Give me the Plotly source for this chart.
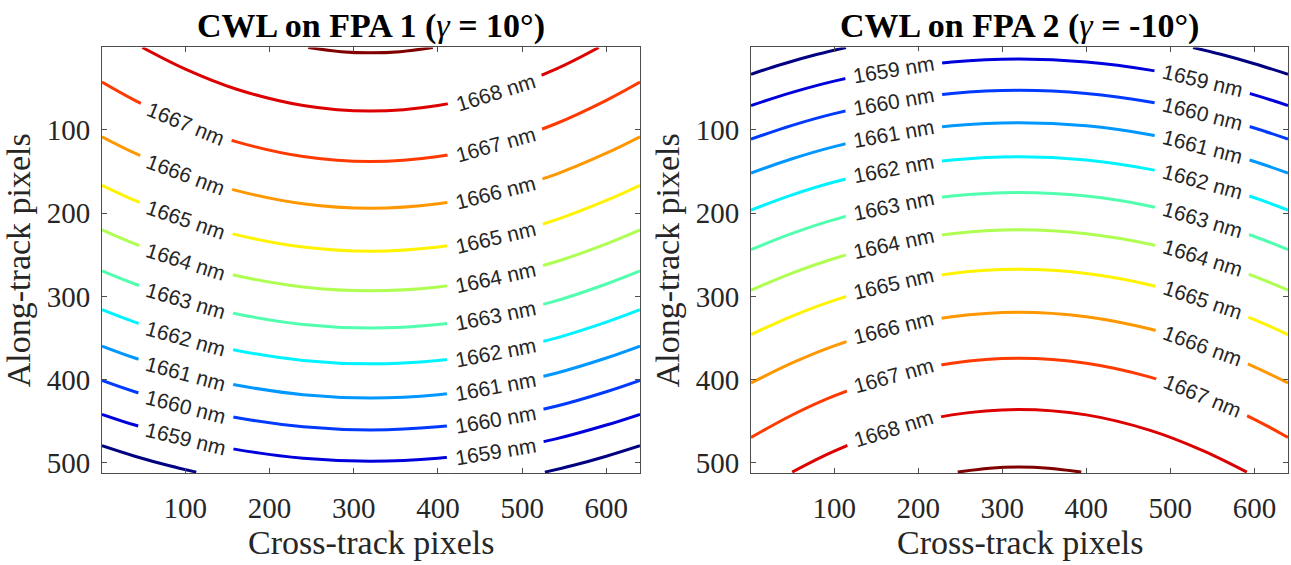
import math
import plotly.graph_objects as go

# ---------------- data ----------------
LEVELS = [1658, 1659, 1660, 1661, 1662, 1663, 1664, 1665, 1666, 1667, 1668, 1669]
X_TICKS = [100, 200, 300, 400, 500, 600]
Y_TICKS = [100, 200, 300, 400, 500]
TITLES = ["<b>CWL on FPA 1 (</b><i>γ</i><b> = 10°)</b>", "<b>CWL on FPA 2 (</b><i>γ</i><b> = -10°)</b>"]
X_TITLE = "Cross-track pixels"
Y_TITLE = "Along-track pixels"

# FPA 1 : along-track row of each contour at these cross-track columns
FPA1_X = [1, 40, 100, 160, 240, 320, 400, 468, 540, 600, 640]
FPA1_1659 = [441.6, 454.5, 471.1, 483.7, 494.4, 497.9, 494.4, 485.8, 471.1, 454.5, 441.6]
FPA1_1660 = [400.9, 414.5, 432.0, 445.4, 456.6, 460.3, 456.6, 447.5, 432.0, 414.5, 400.9]
FPA1_1661 = [359.7, 374.0, 392.3, 406.3, 418.0, 421.9, 418.0, 408.5, 392.3, 374.0, 359.7]
FPA1_1662 = [316.0, 330.9, 350.1, 364.6, 376.9, 381.0, 376.9, 367.0, 350.1, 330.9, 316.0]
FPA1_1663 = [269.4, 285.1, 305.4, 320.7, 333.7, 338.0, 333.7, 323.2, 305.4, 285.1, 269.4]
FPA1_1664 = [220.0, 236.8, 258.4, 274.8, 288.6, 293.2, 288.6, 277.4, 258.4, 236.8, 220.0]
FPA1_1665 = [166.5, 184.7, 208.0, 225.8, 240.7, 245.7, 240.7, 228.7, 208.0, 184.7, 166.5]
FPA1_1666 = [108.3, 128.0, 153.3, 172.6, 188.8, 194.2, 188.8, 175.7, 153.3, 128.0, 108.3]
FPA1_1667 = [42.6, 64.5, 92.6, 114.0, 132.0, 138.0, 132.0, 117.5, 92.6, 64.5, 42.6]
FPA1_1668_X = [49, 100, 160, 240, 320, 400, 468, 540, 591]
FPA1_1668_Y = [1, 27.0, 50.8, 70.7, 77.4, 70.7, 54.6, 27.0, 1]
FPA1_1669_X = [246, 285, 320, 355, 394]
FPA1_1669_Y = [1, 6.0, 7.4, 6.0, 1]
FPA1_1658_X = [1, 40, 80, 113, None, 527, 560, 600, 640]
FPA1_1658_Y = [479.3, 491.9, 503.1, 511, None, 511, 503.1, 491.9, 479.3]
FPA1_LABELS_LEFT = ([1659, 1660, 1661, 1662, 1663, 1664, 1665, 1666, 1667], 100)
FPA1_LABELS_RIGHT = ([1659, 1660, 1661, 1662, 1663, 1664, 1665, 1666, 1667, 1668], 468)

# FPA 2
FPA2_X = [1, 50, 100, 170, 240, 320, 400, 476, 538, 600, 640]
FPA2_1659 = [70.7, 54.9, 41.4, 27.2, 18.4, 14.9, 18.4, 28.2, 41.0, 57.9, 70.7]
FPA2_1660 = [111.1, 94.5, 80.4, 65.5, 56.2, 52.5, 56.2, 66.5, 79.9, 97.7, 111.1]
FPA2_1661 = [151.9, 134.7, 120.1, 104.7, 95.1, 91.3, 95.1, 105.8, 119.6, 138.0, 151.9]
FPA2_1662 = [196.2, 178.0, 162.6, 146.3, 136.1, 132.1, 136.1, 147.4, 162.0, 181.5, 196.2]
FPA2_1663 = [243.7, 224.3, 207.8, 190.3, 179.5, 175.2, 179.5, 191.6, 207.2, 228.0, 243.7]
FPA2_1664 = [292.4, 271.9, 254.4, 236.0, 224.6, 220.0, 224.6, 237.3, 253.8, 275.8, 292.4]
FPA2_1665 = [345.8, 323.6, 304.7, 284.8, 272.4, 267.5, 272.4, 286.2, 304.1, 327.8, 345.8]
FPA2_1666 = [404.0, 379.9, 359.4, 337.7, 324.3, 318.9, 324.3, 339.2, 358.6, 384.5, 404.0]
FPA2_1667 = [469.4, 442.4, 419.5, 395.3, 380.3, 374.3, 380.3, 397.0, 418.7, 447.6, 469.4]
FPA2_1668_X = [50, 100, 170, 240, 320, 400, 476, 538, 591]
FPA2_1668_Y = [511, 485.8, 459.0, 442.3, 435.7, 442.3, 460.9, 484.9, 511]
FPA2_1669_X = [247, 285, 320, 355, 394]
FPA2_1669_Y = [511, 506.4, 505, 506.4, 511]
FPA2_1658_X = [1, 40, 80, 114, None, 527, 560, 600, 640]
FPA2_1658_Y = [33.1, 20.5, 9.2, 1, None, 1, 9.2, 20.5, 33.1]
FPA2_LABELS_LEFT = ([1659, 1660, 1661, 1662, 1663, 1664, 1665, 1666, 1667, 1668], 170)
FPA2_LABELS_RIGHT = ([1659, 1660, 1661, 1662, 1663, 1664, 1665, 1666, 1667], 538)

FPA1 = {
    1658: (FPA1_1658_X, FPA1_1658_Y),
    1659: (FPA1_X, FPA1_1659), 1660: (FPA1_X, FPA1_1660), 1661: (FPA1_X, FPA1_1661),
    1662: (FPA1_X, FPA1_1662), 1663: (FPA1_X, FPA1_1663), 1664: (FPA1_X, FPA1_1664),
    1665: (FPA1_X, FPA1_1665), 1666: (FPA1_X, FPA1_1666), 1667: (FPA1_X, FPA1_1667),
    1668: (FPA1_1668_X, FPA1_1668_Y), 1669: (FPA1_1669_X, FPA1_1669_Y),
}
FPA2 = {
    1658: (FPA2_1658_X, FPA2_1658_Y),
    1659: (FPA2_X, FPA2_1659), 1660: (FPA2_X, FPA2_1660), 1661: (FPA2_X, FPA2_1661),
    1662: (FPA2_X, FPA2_1662), 1663: (FPA2_X, FPA2_1663), 1664: (FPA2_X, FPA2_1664),
    1665: (FPA2_X, FPA2_1665), 1666: (FPA2_X, FPA2_1666), 1667: (FPA2_X, FPA2_1667),
    1668: (FPA2_1668_X, FPA2_1668_Y), 1669: (FPA2_1669_X, FPA2_1669_Y),
}

# ---------------- layout geometry ----------------
W, H = 1291, 565
PLOT_TOP, PLOT_BOTTOM = 48, 478
PANELS_PX = [(102, 640), (751, 1288)]
X_RANGE = [1, 640]
Y_RANGE = [512, 1]
TEXT = "#262626"
SERIF = "Liberation Serif, Times New Roman, serif"
SANS = "Liberation Sans, Arial, sans-serif"


def jet(t):
    r = min(1, max(0, 1.5 - abs(4 * t - 3)))
    g = min(1, max(0, 1.5 - abs(4 * t - 2)))
    b = min(1, max(0, 1.5 - abs(4 * t - 1)))
    return "rgb(%d,%d,%d)" % (round(r * 255), round(g * 255), round(b * 255))


def level_color(lev):
    return jet((lev - LEVELS[0]) / (LEVELS[-1] - LEVELS[0]))


fig = go.Figure()
annotations = []
panels = [(FPA1, FPA1_LABELS_LEFT, FPA1_LABELS_RIGHT), (FPA2, FPA2_LABELS_LEFT, FPA2_LABELS_RIGHT)]

for p, (lines, lab_left, lab_right) in enumerate(panels):
    xa = "x" if p == 0 else "x2"
    ya = "y" if p == 0 else "y2"
    x0, x1 = PANELS_PX[p]
    kx = (x1 - x0) / (X_RANGE[1] - X_RANGE[0])
    ky = (PLOT_BOTTOM - PLOT_TOP) / (Y_RANGE[0] - Y_RANGE[1])
    for lev in LEVELS:
        xs, ys = lines[lev]
        fig.add_trace(go.Scatter(
            x=xs, y=ys, mode="lines", xaxis=xa, yaxis=ya,
            line=dict(color=level_color(lev), width=3, shape="spline", smoothing=1.0),
            hoverinfo="skip", showlegend=False,
        ))
    for levs, xl in (lab_left, lab_right):
        for lev in levs:
            xs, ys = lines[lev]
            i = xs.index(xl)
            dx = (xs[i + 1] - xs[i - 1]) * kx
            dy = (ys[i + 1] - ys[i - 1]) * ky
            ang = math.degrees(math.atan2(dy, dx))
            annotations.append(dict(
                x=xs[i], y=ys[i], xref=xa, yref=ya, showarrow=False,
                text="\u00a0%d nm\u00a0" % lev, textangle=ang,
                bgcolor="white", borderpad=2,
                font=dict(family=SANS, size=21, color=TEXT),
            ))

    cx = (x0 + x1) / 2 / W
    annotations.append(dict(
        x=cx, y=1 - 26 / H, xref="paper", yref="paper", showarrow=False,
        text=TITLES[p], xanchor="center", yanchor="middle",
        font=dict(family=SERIF, size=34, color="black"),
    ))
    annotations.append(dict(
        x=cx, y=1 - 548 / H, xref="paper", yref="paper", showarrow=False,
        text=X_TITLE, xanchor="center", yanchor="middle",
        font=dict(family=SERIF, size=34, color=TEXT),
    ))
    annotations.append(dict(
        x=(x0 - 84) / W, y=1 - (PLOT_TOP + PLOT_BOTTOM) / 2 / H, xref="paper", yref="paper",
        showarrow=False, text=Y_TITLE, textangle=-90, xanchor="center", yanchor="middle",
        font=dict(family=SERIF, size=34, color=TEXT),
    ))

axis_common = dict(
    showgrid=False, zeroline=False, showline=True, linecolor="#4d4d4d", linewidth=1,
    mirror="ticks", ticks="inside", ticklen=5, tickcolor="#4d4d4d", tickwidth=1,
    tickfont=dict(family=SERIF, size=29, color=TEXT),
)

layout = dict(
    width=W, height=H, margin=dict(l=0, r=0, t=0, b=0),
    paper_bgcolor="white", plot_bgcolor="white",
    annotations=annotations, showlegend=False,
)
for p in range(2):
    x0, x1 = PANELS_PX[p]
    sfx = "" if p == 0 else "2"
    layout["xaxis" + sfx] = dict(
        axis_common, domain=[x0 / W, x1 / W], range=X_RANGE,
        tickvals=X_TICKS, ticktext=[str(v) for v in X_TICKS],
        anchor="y" + sfx, ticklabelstandoff=9,
    )
    layout["yaxis" + sfx] = dict(
        axis_common, domain=[1 - PLOT_BOTTOM / H, 1 - PLOT_TOP / H], range=Y_RANGE,
        tickvals=Y_TICKS, ticktext=[str(v) for v in Y_TICKS],
        anchor="x" + sfx, ticklabelstandoff=5,
    )

fig.update_layout(**layout)
fig.write_html("out.html", config={"displayModeBar": False},
               post_script="document.body.style.margin='0px';")
